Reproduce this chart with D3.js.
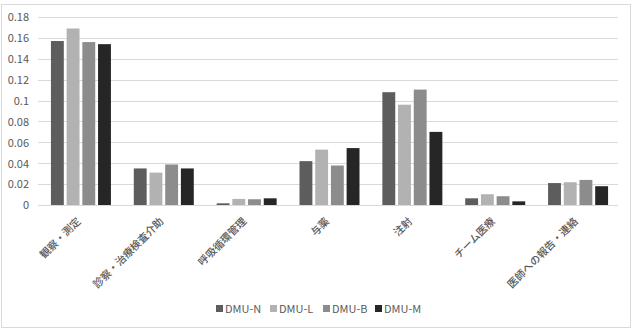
<!DOCTYPE html>
<html><head><meta charset="utf-8">
<script src="https://cdn.jsdelivr.net/npm/d3@7"></script>
<style>body{margin:0;background:#fff}svg{display:block}text{font-family:"Noto Sans CJK JP","Noto Sans",sans-serif}</style>
</head><body><svg id="c" width="636" height="332"></svg>
<script>
const categories = ["観察・測定","診察・治療検査介助","呼吸循環管理","与薬","注射","チーム医療","医師への報告・連絡"];
const seriesNames = ["DMU-N","DMU-L","DMU-B","DMU-M"];
const dmuN = [0.157,0.035,0.0016,0.042,0.108,0.0064,0.021];
const dmuL = [0.169,0.031,0.0058,0.053,0.096,0.0103,0.0218];
const dmuB = [0.156,0.0388,0.0055,0.0378,0.1105,0.0084,0.024];
const dmuM = [0.154,0.035,0.0064,0.0545,0.070,0.0035,0.018];
const yTicks = [0,0.02,0.04,0.06,0.08,0.1,0.12,0.14,0.16,0.18];
const colors = ["#5d5d5d","#b2b2b2","#8c8c8c","#262626"];

const series = [dmuN,dmuL,dmuB,dmuM];
const svg = d3.select("#c");
svg.append("rect").attr("x",1.5).attr("y",4.5).attr("width",629).attr("height",323)
  .attr("fill","#fff").attr("stroke","#d9d9d9");

const L=38,R=618,T=17,B=205;
const y = d3.scaleLinear().domain([0,0.18]).range([B,T]);
const x0 = d3.scaleBand().domain(categories).range([L,R]).paddingInner(0).paddingOuter(0);
const x1 = d3.scaleBand().domain(seriesNames).range([0,60]).paddingInner(0.18).paddingOuter(0);
const off = (x0.bandwidth()-60)/2 + 1.5;

const g = svg.append("g");
g.selectAll("line.grid").data(yTicks).join("line")
  .attr("x1",L).attr("x2",R).attr("y1",d=>Math.round(y(d))+0.5).attr("y2",d=>Math.round(y(d))+0.5)
  .attr("stroke","#d9d9d9").attr("stroke-width",1);

const yAxis = d3.axisLeft(y).tickValues(yTicks).tickSize(0).tickPadding(0).tickFormat(d=>d===0?"0":String(+d.toFixed(2)));
const ya = g.append("g").attr("transform",`translate(${L-9},0)`).call(yAxis);
ya.select(".domain").remove();
ya.selectAll("text").attr("fill","#595959").attr("font-size","11px").attr("dy","0.35em");

categories.forEach((c,i)=>{
  const gg = g.append("g").attr("transform",`translate(${x0(c)+off},0)`);
  gg.selectAll("rect").data(series.map((s,j)=>({k:seriesNames[j],v:s[i],col:colors[j]}))).join("rect")
    .attr("x",d=>x1(d.k)).attr("width",x1.bandwidth())
    .attr("y",d=>y(d.v)).attr("height",d=>y(0)-y(d.v))
    .attr("fill",d=>d.col);
});

const xAxis = d3.axisBottom(x0).tickSize(0).tickPadding(0);
const xa = g.append("g").attr("transform",`translate(0,${B})`).call(xAxis);
xa.select(".domain").remove();
xa.selectAll("text").attr("fill","#595959").attr("font-size","10.5px").attr("font-weight","500")
  .attr("text-anchor","end").attr("dy","0")
  .attr("transform","translate(2,17) rotate(-45)");

const leg = svg.append("g").attr("transform","translate(216,309)");
const legX = [0,54,107,159];
seriesNames.forEach((n,j)=>{
  const it = leg.append("g").attr("transform",`translate(${legX[j]},0)`);
  it.append("rect").attr("x",0).attr("y",-4).attr("width",7).attr("height",7).attr("fill",colors[j]);
  it.append("text").attr("x",9).attr("y",0).attr("dy","0.35em").attr("fill","#595959").attr("font-size","11px").text(n);
});
</script></body></html>
